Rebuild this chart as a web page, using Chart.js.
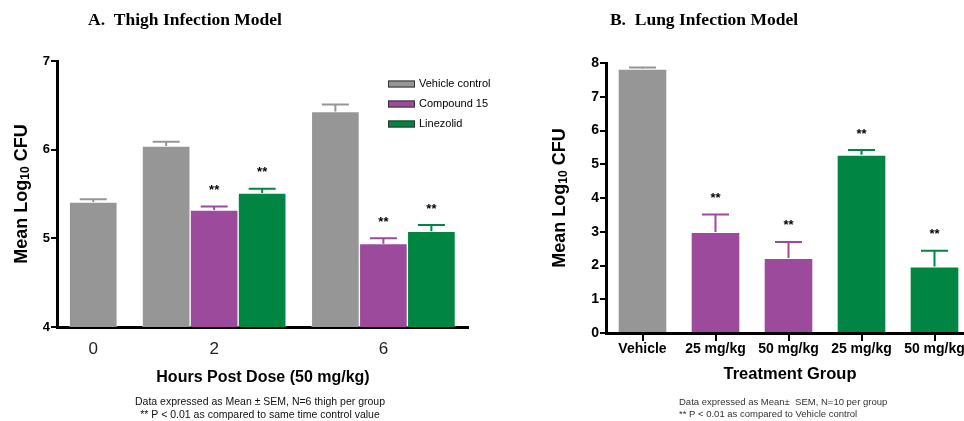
<!DOCTYPE html>
<html>
<head>
<meta charset="utf-8">
<script src="https://cdn.jsdelivr.net/npm/chart.js@4.4.1/dist/chart.umd.min.js"></script>
<style>
  html, body { margin: 0; padding: 0; background: #fff; overflow: hidden; }
  #wrapA { position: absolute; left: 0; top: 0; }
  #wrapB { position: absolute; left: 480px; top: 0; }
</style>
</head>
<body>
<div id="wrapA"><canvas id="thigh" width="500" height="421"></canvas></div>
<div id="wrapB"><canvas id="lung" width="500" height="421"></canvas></div>
<script>
// A. Thigh infection model
const hours = ['0', '2', '6'];
const hourSlot = [1.5, 6.5, 13.5]; // where each time group sits on the x axis (half-bar units)
const seriesNames = ['Vehicle control', 'Compound 15', 'Linezolid'];
const vehicleMean = [5.41, 6.04, 6.43];
const vehicleSem = [0.03, 0.05, 0.08];
const compoundMean = [null, 5.32, 4.94];
const compoundSem = [null, 0.04, 0.06];
const linezolidMean = [null, 5.51, 5.08];
const linezolidSem = [null, 0.05, 0.07];
const compoundSig = [false, true, true];
const linezolidSig = [false, true, true];

// B. Lung infection model
const groups = ['Vehicle', '25 mg/kg', '50 mg/kg', '25 mg/kg', '50 mg/kg'];
const lungMean = [7.83, 2.99, 2.22, 5.28, 1.97];
const lungSem = [0.04, 0.52, 0.48, 0.14, 0.47];
const lungSig = [false, true, true, true, true];

const GRAY = '#969696';
const PURPLE = '#9c4b9c';
const GREEN = '#008542';
const SANS = '"Liberation Sans", Arial, sans-serif';
const SERIF = '"Liberation Serif", "Times New Roman", serif';

// error bar (upper half only) + significance stars
const errorBars = {
  id: 'errorBars',
  afterDatasetsDraw(chart) {
    const ctx = chart.ctx;
    const yScale = chart.scales.y;
    chart.data.datasets.forEach((ds, di) => {
      const meta = chart.getDatasetMeta(di);
      meta.data.forEach((bar, i) => {
        const val = meta.controller.getParsed(i).y;
        const sem = ds.sem[i];
        if (val == null || sem == null) return;
        const col = Array.isArray(ds.backgroundColor) ? ds.backgroundColor[i] : ds.backgroundColor;
        const top = yScale.getPixelForValue(val + sem);
        ctx.save();
        ctx.strokeStyle = col;
        ctx.lineWidth = 2;
        ctx.beginPath();
        ctx.moveTo(bar.x, bar.y);
        ctx.lineTo(bar.x, top);
        ctx.moveTo(bar.x - 13.5, top);
        ctx.lineTo(bar.x + 13.5, top);
        ctx.stroke();
        if (ds.sig && ds.sig[i]) {
          ctx.fillStyle = '#000';
          ctx.font = 'bold 13px ' + SANS;
          ctx.textAlign = 'center';
          ctx.textBaseline = 'middle';
          ctx.fillText('**', bar.x, top - 16);
        }
        ctx.restore();
      });
    });
  }
};

function yTitle(ctx, cx, cy) {
  const big = 'bold 18px ' + SANS;
  const small = 'bold 12px ' + SANS;
  ctx.save();
  ctx.translate(cx, cy);
  ctx.rotate(-Math.PI / 2);
  ctx.fillStyle = '#000';
  ctx.textBaseline = 'middle';
  ctx.textAlign = 'left';
  ctx.font = big;
  const w1 = ctx.measureText('Mean Log').width;
  const w3 = ctx.measureText(' CFU').width;
  ctx.font = small;
  const w2 = ctx.measureText('10').width;
  let x = -(w1 + w2 + w3) / 2;
  ctx.font = big; ctx.fillText('Mean Log', x, 0); x += w1;
  ctx.font = small; ctx.fillText('10', x, 4); x += w2;
  ctx.font = big; ctx.fillText(' CFU', x, 0);
  ctx.restore();
}

function text(ctx, str, x, y, font, color, align) {
  ctx.save();
  ctx.font = font;
  ctx.fillStyle = color || '#000';
  ctx.textAlign = align || 'center';
  ctx.textBaseline = 'middle';
  ctx.fillText(str, x, y);
  ctx.restore();
}

const decorA = {
  id: 'decorA',
  afterDraw(chart) {
    const ctx = chart.ctx;
    text(ctx, 'A.  Thigh Infection Model', 185, 20, 'bold 17.5px ' + SERIF);
    yTitle(ctx, 22, 194);
    text(ctx, 'Hours Post Dose (50 mg/kg)', 263, 378, 'bold 16px ' + SANS);
    text(ctx, 'Data expressed as Mean \u00b1 SEM, N=6 thigh per group', 260, 402, '10.5px ' + SANS, '#111');
    text(ctx, '** P < 0.01 as compared to same time control value', 260, 415, '10.5px ' + SANS, '#111');
    // legend
    chart.data.datasets.forEach((ds, i) => {
      const cy = 84 + i * 20;
      ctx.save();
      ctx.fillStyle = ds.backgroundColor;
      ctx.fillRect(388, cy - 3.5, 27, 7);
      ctx.strokeStyle = '#333';
      ctx.lineWidth = 1;
      ctx.strokeRect(388.5, cy - 3, 26, 6);
      ctx.restore();
      text(ctx, ds.label, 419, cy, '11px ' + SANS, '#000', 'left');
    });
  }
};

const decorB = {
  id: 'decorB',
  afterDraw(chart) {
    const ctx = chart.ctx;
    text(ctx, 'B.  Lung Infection Model', 224, 20, 'bold 17.5px ' + SERIF);
    yTitle(ctx, 80, 198);
    text(ctx, 'Treatment Group', 310, 374, 'bold 16.5px ' + SANS);
    text(ctx, 'Data expressed as Mean\u00b1  SEM, N=10 per group', 199, 402, '9.5px ' + SANS, '#333', 'left');
    text(ctx, '** P < 0.01 as compared to Vehicle control', 199, 414, '9.5px ' + SANS, '#333', 'left');
  }
};

const edge = 'rgba(255,255,255,0.35)';

new Chart(document.getElementById('thigh'), {
  type: 'bar',
  data: {
    datasets: [
      { label: seriesNames[0], data: hourSlot.map((x, i) => ({ x: x, y: vehicleMean[i] })), sem: vehicleSem, backgroundColor: GRAY },
      { label: seriesNames[1], data: hourSlot.map((x, i) => ({ x: x, y: compoundMean[i] })), sem: compoundSem, sig: compoundSig, backgroundColor: PURPLE },
      { label: seriesNames[2], data: hourSlot.map((x, i) => ({ x: x, y: linezolidMean[i] })), sem: linezolidSem, sig: linezolidSig, backgroundColor: GREEN }
    ]
  },
  options: {
    responsive: false,
    animation: false,
    devicePixelRatio: 1,
    layout: { padding: { top: 61, right: 32, left: 0, bottom: 0 } },
    datasets: { bar: { barThickness: 48, skipNull: true, borderWidth: 1, borderColor: edge } },
    plugins: { legend: { display: false }, tooltip: { enabled: false } },
    scales: {
      x: {
        type: 'linear', min: 0, max: 17, offset: false,
        afterFit: s => { s.height = 94; },
        afterBuildTicks: s => { s.ticks = hourSlot.map(v => ({ value: v })); },
        grid: { display: false },
        border: { display: true, width: 3, color: '#000' },
        ticks: {
          callback: v => hours[hourSlot.indexOf(v)],
          font: { family: SANS, size: 17 }, color: '#222', padding: 4,
          maxRotation: 0, autoSkip: false
        }
      },
      y: {
        min: 4, max: 7,
        afterFit: s => { s.width = 57; },
        ticks: { stepSize: 1, font: { family: SANS, size: 13, weight: 'bold' }, color: '#000', padding: 1 },
        grid: { drawOnChartArea: false, tickLength: 6, lineWidth: 2, color: '#000' },
        border: { width: 3, color: '#000' }
      }
    }
  },
  plugins: [errorBars, decorA]
});

new Chart(document.getElementById('lung'), {
  type: 'bar',
  data: {
    labels: groups,
    datasets: [{
      label: 'Lung',
      data: lungMean,
      sem: lungSem,
      sig: lungSig,
      backgroundColor: [GRAY, PURPLE, PURPLE, GREEN, GREEN]
    }]
  },
  options: {
    responsive: false,
    animation: false,
    devicePixelRatio: 1,
    layout: { padding: { top: 63, right: 9, left: 0, bottom: 0 } },
    datasets: { bar: { barPercentage: 0.68, categoryPercentage: 1, borderWidth: 1, borderColor: edge } },
    plugins: { legend: { display: false }, tooltip: { enabled: false } },
    scales: {
      x: {
        afterFit: s => { s.height = 88; },
        grid: { drawOnChartArea: false, offset: false, tickLength: 8, lineWidth: 2, color: '#000' },
        border: { width: 3, color: '#000' },
        ticks: { font: { family: SANS, size: 14, weight: 'bold' }, color: '#000', padding: 0, maxRotation: 0, autoSkip: false }
      },
      y: {
        min: 0, max: 8,
        afterFit: s => { s.width = 126; },
        ticks: { stepSize: 1, font: { family: SANS, size: 14, weight: 'bold' }, color: '#000', padding: 1 },
        grid: { drawOnChartArea: false, tickLength: 6, lineWidth: 2, color: '#000' },
        border: { width: 3, color: '#000' }
      }
    }
  },
  plugins: [errorBars, decorB]
});
</script>
</body>
</html>
